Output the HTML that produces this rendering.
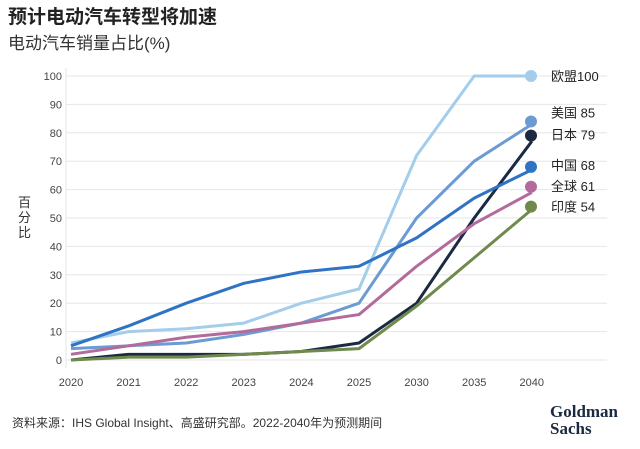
<!DOCTYPE html>
<html><head><meta charset="utf-8"><style>
body{margin:0;width:640px;height:444px;background:#fff;font-family:"Liberation Sans","Noto Sans CJK SC",sans-serif;overflow:hidden}
</style></head><body>
<svg width="640" height="444" xmlns="http://www.w3.org/2000/svg" font-family="Liberation Sans, Noto Sans CJK SC, sans-serif">
<text x="8" y="23" font-size="19" font-weight="bold" fill="#222">预计电动汽车转型将加速</text>
<text x="8" y="49" font-size="17" fill="#333">电动汽车销量占比(%)</text>
<g font-size="13" fill="#333">
<text x="18" y="207">百</text><text x="18" y="222">分</text><text x="18" y="237">比</text></g>
<g id="grid"></g><g id="series"></g><g id="legend"></g>
<text x="12" y="427" font-size="12" fill="#333">资料来源：IHS Global Insight、高盛研究部。2022-2040年为预测期间</text>
<g font-family="Liberation Serif, serif" font-weight="bold" font-size="17" fill="#1a2a40">
<text x="550" y="417">Goldman</text><text x="550" y="434">Sachs</text></g>
</svg>
<script>
const categories=["2020","2021","2022","2023","2024","2025","2030","2035","2040"];
const yTicks=[0,10,20,30,40,50,60,70,80,90,100];
const names=["欧盟","美国","日本","中国","全球","印度"];
const labels=["欧盟100","美国 85","日本 79","中国 68","全球 61","印度 54"];
const eu=[6,10,11,13,20,25,72,100,100];
const us=[4,5,6,9,13,20,50,70,83];
const jp=[0,2,2,2,3,6,20,50,77];
const cn=[5,12,20,27,31,33,43,57,67];
const gl=[2,5,8,10,13,16,33,48,59];
const ind=[0,1,1,2,3,4,19,36,53];
const dotVals=[100,84,79,68,61,54];
const series=[eu,us,jp,cn,gl,ind];
const colors=["#a3cdeb","#6b9bd2","#1b2a42","#2f73c4","#b26b9b","#6f8a4c"];
const NS="http://www.w3.org/2000/svg";
const x=i=>71+i*57.6, y=v=>360-v*2.84;
function mk(t,a,p){const e=document.createElementNS(NS,t);for(const k in a)e.setAttribute(k,a[k]);p.appendChild(e);return e;}
const g=document.getElementById('grid');
yTicks.forEach(v=>{
 const l=mk('line',{x1:66,x2:607,y1:y(v),y2:y(v),stroke:'#e6e6e6','stroke-width':1},g);
 
 
 const t=mk('text',{x:62,y:y(v)+4,'text-anchor':'end','font-size':11,fill:'#444'},g);t.textContent=v;
 
 
});
const ax=mk('line',{x1:66,x2:66,y1:68,y2:368,stroke:'#e6e6e6'},g);


categories.forEach((c,i)=>{
 const t=mk('text',{x:x(i),y:386,'text-anchor':'middle','font-size':11,fill:'#444'},g);t.textContent=c;
 
 
});
const sg=document.getElementById('series');
series.forEach((s,k)=>{
 const p=mk('polyline',{points:s.map((v,i)=>x(i)+','+y(v)).join(' '),fill:'none',stroke:colors[k],'stroke-width':3,'stroke-linejoin':'round'},sg);
 
 
});
const lg=document.getElementById('legend');
const dotY=[76,121,136,168,188,206];
labels.forEach((lab,k)=>{
 const c=mk('circle',{cx:531,cy:y(dotVals[k]) ,r:6,fill:colors[k]},lg);
 
 
 const t=mk('text',{x:551,y:y(dotVals[k])+(k==1?-9:k==2?-1:k==3?-2:k==4?-1:0)+5,'font-size':13,fill:'#222'},lg);t.textContent=lab;
 
 
});
</script>
</body></html>
